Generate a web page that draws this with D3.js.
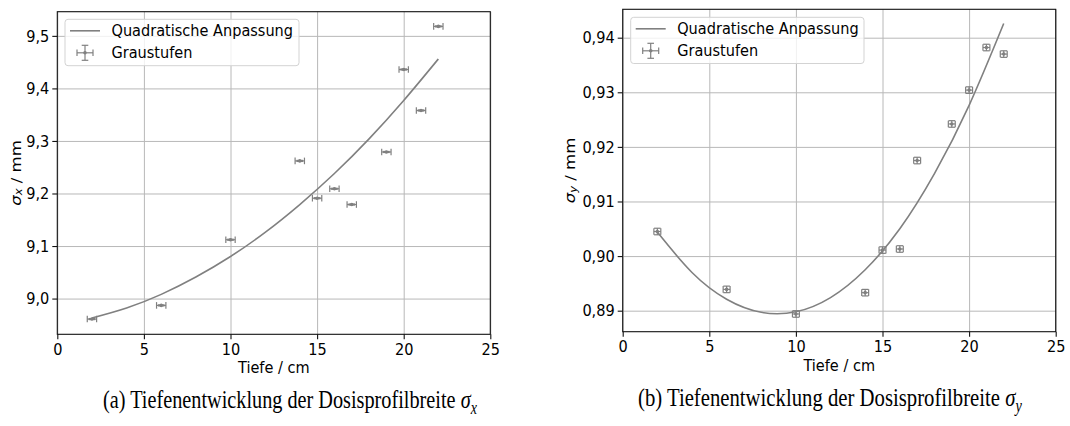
<!DOCTYPE html>
<html><head><meta charset="utf-8">
<script src="https://cdn.jsdelivr.net/npm/d3@7"></script>
<style>html,body{margin:0;padding:0;background:#fff;}svg{display:block;}</style>
</head><body>
<svg id="chart" width="1070" height="426"></svg>
<script>
// ---- data ----
const depth = [2, 6, 10, 14, 15, 16, 17, 19, 20, 21, 22];
const sigmaX = [8.961, 8.987, 9.112, 9.262, 9.191, 9.209, 9.179, 9.279, 9.436, 9.358, 9.518];
const sigmaY = [0.9045, 0.8939, 0.8894, 0.8933, 0.9011, 0.9013, 0.9175, 0.9242, 0.9304, 0.9382, 0.9370];
const depthErrX = 0.27, sigmaErrX = 0.001;
const depthErrY = 0.2, sigmaErrY = 0.0006;
const fitDepth = [2, 4, 6, 8, 10, 12, 14, 16, 18, 20, 22];
const fitX = [8.963, 8.982, 9.008, 9.041, 9.080, 9.126, 9.179, 9.238, 9.304, 9.377, 9.456];
const fitY = [0.9044, 0.8970, 0.8921, 0.8897, 0.8898, 0.8924, 0.8975, 0.9050, 0.9151, 0.9276, 0.9426];
const xTicks = [0, 5, 10, 15, 20, 25];
const xTickLabels = ["0", "5", "10", "15", "20", "25"];
const yTicksA = [9.0, 9.1, 9.2, 9.3, 9.4, 9.5];
const yTickLabelsA = ["9,0", "9,1", "9,2", "9,3", "9,4", "9,5"];
const yTicksB = [0.89, 0.90, 0.91, 0.92, 0.93, 0.94];
const yTickLabelsB = ["0,89", "0,90", "0,91", "0,92", "0,93", "0,94"];
const legendLabels = ["Quadratische Anpassung", "Graustufen"];

// ---- style ----
const SX = 0.88;           // horizontal squeeze of the figure text
const FS = 16.5;
const FONT = "DejaVu Sans";
const GRAY = "#808080";
const svg = d3.select("#chart");

function stext(parent, x, y, str, anchor, rot) {
  const g = parent.append("g").attr("transform", `translate(${x},${y}) scale(${SX},1)` + (rot ? ` rotate(${rot})` : ""));
  return g.append("text").attr("x", 0).attr("y", 0)
    .attr("text-anchor", anchor || "start")
    .attr("font-family", FONT).attr("font-size", FS).attr("fill", "#000")
    .text(str);
}

function panel(o) {
  const g = svg.append("g");
  const x = d3.scaleLinear().domain([0, 25]).range([o.left, o.right]);
  const y = d3.scaleLinear().domain(o.yDomain).range([o.bottom, o.top]);
  const h = o.bottom - o.top, w = o.right - o.left;

  // grid
  g.append("g").attr("transform", `translate(0,${o.bottom})`)
    .call(d3.axisBottom(x).tickValues(xTicks).tickSize(-h).tickFormat(""))
    .call(s => s.select(".domain").remove())
    .selectAll("line").attr("stroke", "#b8b8b8").attr("stroke-width", 1);
  g.append("g").attr("transform", `translate(${o.left},0)`)
    .call(d3.axisLeft(y).tickValues(o.yTicks).tickSize(-w).tickFormat(""))
    .call(s => s.select(".domain").remove())
    .selectAll("line").attr("stroke", "#b8b8b8").attr("stroke-width", 1);

  // fit curve
  const line = d3.line().x((d, i) => x(fitDepth[i])).y(d => y(d)).curve(d3.curveNatural);
  g.append("path").datum(o.fit).attr("d", line)
    .attr("fill", "none").attr("stroke", GRAY).attr("stroke-width", 1.6);

  // error bars
  const cap = 3.3;
  const pts = g.append("g").attr("stroke", GRAY).attr("stroke-width", 1.2).attr("fill", GRAY);
  o.vals.forEach((v, i) => {
    const cx = x(depth[i]), cy = y(v);
    const x0 = x(depth[i] - o.xerr), x1 = x(depth[i] + o.xerr);
    const y0 = y(v - o.yerr), y1 = y(v + o.yerr);
    pts.append("line").attr("x1", x0).attr("x2", x1).attr("y1", cy).attr("y2", cy);
    pts.append("line").attr("x1", cx).attr("x2", cx).attr("y1", y0).attr("y2", y1);
    [x0, x1].forEach(xx => pts.append("line").attr("x1", xx).attr("x2", xx).attr("y1", cy - cap).attr("y2", cy + cap));
    [y0, y1].forEach(yy => pts.append("line").attr("x1", cx - cap).attr("x2", cx + cap).attr("y1", yy).attr("y2", yy));
    pts.append("circle").attr("cx", cx).attr("cy", cy).attr("r", 1.8).attr("stroke", "none");
  });

  // spines
  g.append("rect").attr("x", o.left).attr("y", o.top).attr("width", w).attr("height", h)
    .attr("fill", "none").attr("stroke", "#111").attr("stroke-width", 1.1);

  // axes with tick labels
  const ax = g.append("g").attr("transform", `translate(0,${o.bottom})`)
    .call(d3.axisBottom(x).tickValues(xTicks).tickSize(5).tickPadding(4).tickFormat((d, i) => xTickLabels[i]));
  ax.select(".domain").remove();
  ax.selectAll("line").attr("stroke", "#111").attr("stroke-width", 1.1);
  ax.selectAll("text").attr("font-family", FONT).attr("font-size", FS).attr("fill", "#000")
    .attr("transform", `scale(${SX},1)`);
  const ay = g.append("g").attr("transform", `translate(${o.left},0)`)
    .call(d3.axisLeft(y).tickValues(o.yTicks).tickSize(5).tickPadding(3).tickFormat((d, i) => o.yTickLabels[i]));
  ay.select(".domain").remove();
  ay.selectAll("line").attr("stroke", "#111").attr("stroke-width", 1.1);
  ay.selectAll("text").attr("font-family", FONT).attr("font-size", FS).attr("fill", "#000")
    .attr("x", -8 / SX).attr("transform", `scale(${SX},1)`);

  // axis labels
  stext(g, (o.left + o.right) / 2, o.xlabelY, "Tiefe / cm", "middle");
  const yl = stext(g, o.ylabelX, (o.top + o.bottom) / 2, "", "middle", -90).attr("dominant-baseline", "central");
  yl.append("tspan").attr("font-style", "italic").text("σ");
  yl.append("tspan").attr("font-style", "italic").attr("font-size", FS * 0.7).attr("dy", 3).text(o.sub);
  yl.append("tspan").attr("dy", -3).text(" / mm");

  // legend
  const L = o.legend;
  g.append("rect").attr("x", L.x).attr("y", L.y).attr("width", L.w).attr("height", L.h)
    .attr("rx", 3).attr("fill", "#fff").attr("fill-opacity", 0.8)
    .attr("stroke", "#d3d3d3").attr("stroke-width", 1);
  g.append("line").attr("x1", L.x + 5).attr("x2", L.x + 35).attr("y1", L.y + 11.5).attr("y2", L.y + 11.5)
    .attr("stroke", GRAY).attr("stroke-width", 1.6);
  stext(g, L.x + 46.5, L.y + 11.5, legendLabels[0]).attr("dominant-baseline", "central");
  const ex = L.x + 20, ey = L.y + 33.5;
  const lg = g.append("g").attr("stroke", GRAY).attr("stroke-width", 1.2).attr("fill", GRAY);
  lg.append("line").attr("x1", ex - 8).attr("x2", ex + 8).attr("y1", ey).attr("y2", ey);
  lg.append("line").attr("x1", ex).attr("x2", ex).attr("y1", ey - 7.5).attr("y2", ey + 7.5);
  [ex - 8, ex + 8].forEach(xx => lg.append("line").attr("x1", xx).attr("x2", xx).attr("y1", ey - cap).attr("y2", ey + cap));
  [ey - 7.5, ey + 7.5].forEach(yy => lg.append("line").attr("x1", ex - cap).attr("x2", ex + cap).attr("y1", yy).attr("y2", yy));
  lg.append("circle").attr("cx", ex).attr("cy", ey).attr("r", 1.8).attr("stroke", "none");
  stext(g, L.x + 46.5, ey, legendLabels[1]).attr("dominant-baseline", "central");

  // caption
  const cap2 = g.append("text").attr("x", 0).attr("y", 0)
    .attr("font-family", "Liberation Serif").attr("font-size", 26).attr("fill", "#000");
  cap2.append("tspan").text(o.caption + " ");
  cap2.append("tspan").attr("font-style", "italic").text("σ");
  cap2.append("tspan").attr("font-style", "italic").attr("font-size", 18).attr("dy", 6).text(o.sub);
  const len = cap2.node().getComputedTextLength();
  const k = o.capW / len;
  cap2.attr("transform", `translate(${o.capCx - o.capW / 2},${o.capY}) scale(${k},1)`);
}

panel({
  left: 57.3, right: 490.3, top: 11.7, bottom: 334.3,
  yDomain: [8.932, 9.546], yTicks: yTicksA, yTickLabels: yTickLabelsA,
  vals: sigmaX, fit: fitX, xerr: depthErrX, yerr: sigmaErrX, sub: "x",
  xlabelY: 373, ylabelX: 16,
  legend: {x: 65, y: 19.3, w: 234, h: 46.4},
  caption: "(a) Tiefenentwicklung der Dosisprofilbreite", capCx: 290, capW: 374, capY: 408
});
panel({
  left: 622.7, right: 1055.7, top: 9.3, bottom: 331.7,
  yDomain: [0.88615, 0.9452], yTicks: yTicksB, yTickLabels: yTickLabelsB,
  vals: sigmaY, fit: fitY, xerr: depthErrY, yerr: sigmaErrY, sub: "y",
  xlabelY: 370.5, ylabelX: 570.5,
  legend: {x: 630.7, y: 17.3, w: 233.3, h: 46.2},
  caption: "(b) Tiefenentwicklung der Dosisprofilbreite", capCx: 830, capW: 384, capY: 406
});
</script>
</body></html>
